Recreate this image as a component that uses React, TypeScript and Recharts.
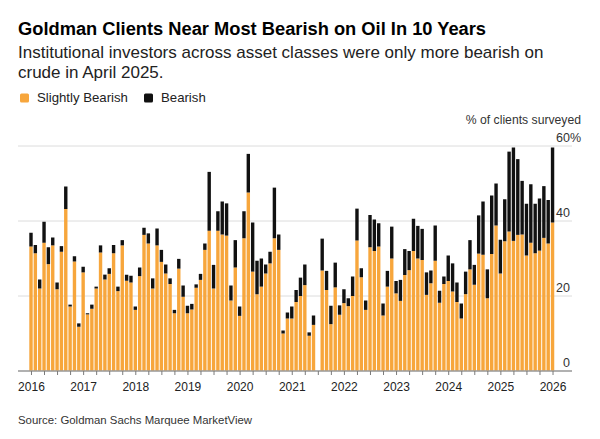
import { BarChart, Bar, XAxis, YAxis, CartesianGrid } from 'recharts'

const FONT = '"Liberation Sans", Arial, Helvetica, sans-serif'
const ORANGE = '#f7a63c'
const BLACK = '#111111'

const YEARS = [2016, 2017, 2018, 2019, 2020, 2021, 2022, 2023, 2024, 2025, 2026]
// monthly survey, Jan 2016 .. Jan 2026
const MONTHS = YEARS.flatMap((y) =>
  ['01', '02', '03', '04', '05', '06', '07', '08', '09', '10', '11', '12'].map((m) => `${y}-${m}`)
).slice(0, 121)

// % of clients "slightly bearish" (orange part)
const SLIGHTLY: (number | null)[] = [
  33.2, 31.4, 22.0, 34.2, 28.5, 33.5, 21.8, 31.8, 43.2, 17.2, 29.2, 11.8,
  26.3, 15.1, 16.6, 22.0, 31.6, 24.4, 25.9, 31.4, 21.3, 33.5, 24.1, 23.6,
  16.3, 25.3, 36.3, 34.0, 22.0, 33.5, 29.1, 26.0, 23.2, 15.4, 27.3, 19.8,
  15.4, 16.4, 22.2, 24.3, 32.3, 37.4, 22.0, 37.4, 36.4, 36.1, 18.8, 27.6,
  14.7, 35.4, 47.6, 26.5, 20.5, 22.5, 26.0, 28.7, 35.4, 32.3, 10.0, 14.0,
  14.0, 18.4, 20.0, 22.9, 9.4, 12.3, null, 26.8, 21.6, 12.5, 22.3, 15.0,
  18.1, 17.3, 20.0, 34.8, 25.0, 16.3, 33.0, 32.0, 33.2, 14.8, 22.5, 30.0,
  20.7, 18.7, 25.6, 26.9, 32.0, 30.0, 29.6, 20.3, 23.4, 29.4, 18.2, 23.2,
  24.0, 21.2, 18.4, 14.0, 20.5, 27.1, 23.0, 31.3, 31.0, 19.4, 31.2, 38.8,
  26.0, 34.6, 37.2, 34.7, 36.3, 36.4, 30.8, 34.2, 31.4, 32.1, 35.5, 34.0,
  39.6,
]

// % of clients "bearish" (black part, stacked on top)
const BEARISH: (number | null)[] = [
  3.7, 2.2, 2.4, 5.6, 4.5, 2.1, 1.8, 1.5, 6.0, 0.5, 1.4, 0.9,
  1.5, 0.3, 1.1, 0.5, 1.9, 1.3, 1.5, 2.2, 1.2, 1.4, 1.6, 1.8,
  0.9, 2.3, 1.9, 2.7, 2.7, 4.5, 3.2, 2.4, 1.5, 0.9, 2.6, 3.0,
  2.0, 1.5, 0.9, 1.6, 1.7, 15.7, 6.3, 5.2, 8.8, 8.6, 4.0, 7.3,
  2.5, 7.2, 10.3, 13.1, 8.9, 7.5, 2.4, 3.1, 13.5, 4.1, 0.8, 1.6,
  3.2, 3.2, 4.9, 5.5, 0.9, 2.5, null, 8.5, 5.1, 4.9, 6.6, 2.5,
  3.7, 2.1, 5.2, 8.5, 2.4, 2.5, 8.6, 8.4, 6.2, 3.2, 4.2, 8.5,
  3.3, 5.6, 6.9, 5.1, 8.6, 8.7, 8.3, 6.0, 3.4, 9.4, 3.2, 2.0,
  6.8, 7.5, 5.2, 4.0, 6.0, 7.8, 5.3, 10.2, 14.2, 7.7, 15.6, 11.2,
  9.0, 11.2, 21.3, 24.9, 20.2, 14.3, 13.8, 15.6, 13.2, 13.9, 13.8, 11.6,
  20.0,
]

const Y_TICKS = [0, 20, 40, 60]

const data = MONTHS.map((month, i) => ({ month, slightly: SLIGHTLY[i], bearish: BEARISH[i] }))

function XTick(props: any) {
  const { x, y, payload } = props
  const [yr, mo] = String(payload.value).split('-')
  const m = Number(mo)
  if ((m - 1) % 3 !== 0) return <g />
  return (
    <g>
      <line x1={x} x2={x} y1={y} y2={y + 4} stroke="#7a7a7a" strokeWidth={1} />
      {m === 1 && (
        <text x={x} y={y + 19.5} textAnchor="middle" fontSize={12} fill="#222" fontFamily={FONT}>
          {yr}
        </text>
      )}
    </g>
  )
}

function YTick(props: any) {
  const { x, y, payload } = props
  return (
    <g>
      <text x={x} y={y - 4.5} textAnchor="end" fontSize={12.5} fill="#333" fontFamily={FONT}>
        {payload.value}
      </text>
      {payload.value === 60 && (
        <text x={x} y={y - 4.5} textAnchor="start" fontSize={12.5} fill="#333" fontFamily={FONT}>
          %
        </text>
      )}
    </g>
  )
}

export default function App() {
  return (
    <div style={{ position: 'absolute', left: 0, top: 0, width: 600, height: 439, background: '#fff', overflow: 'hidden' }}>
      <div style={{ position: 'absolute', left: 0, top: 0 }}>
        <BarChart width={600} height={439} data={data} margin={{ top: 146, right: 28, bottom: 38, left: 18 }} barSize={3.4}>
          <CartesianGrid vertical={false} stroke="#dcdcdc" strokeWidth={1} />
          <XAxis
            dataKey="month"
            height={30}
            interval={0}
            padding={{ left: 11.3, right: 16.8 }}
            axisLine={{ stroke: '#9c9c9c', strokeWidth: 1.5 }}
            tickLine={false}
            tickSize={0}
            tickMargin={0}
            tick={<XTick />}
          />
          <YAxis
            orientation="right"
            mirror
            domain={[0, 60]}
            ticks={Y_TICKS}
            axisLine={false}
            tickLine={false}
            tickSize={0}
            tickMargin={2}
            tick={<YTick />}
          />
          <Bar dataKey="slightly" stackId="a" fill={ORANGE} isAnimationActive={false} />
          <Bar dataKey="bearish" stackId="a" fill={BLACK} isAnimationActive={false} />
        </BarChart>
      </div>
      <svg width={600} height={439} style={{ position: 'absolute', left: 0, top: 0, pointerEvents: 'none' }} fontFamily={FONT}>
        <text x={18} y={34.5} fontSize={18.3} fontWeight="bold" fill="#000">
          Goldman Clients Near Most Bearish on Oil In 10 Years
        </text>
        <text x={18} y={58.3} fontSize={17} fill="#222">
          Institutional investors across asset classes were only more bearish on
        </text>
        <text x={18} y={77.5} fontSize={17} fill="#222">
          crude in April 2025.
        </text>
        <rect x={20} y={93.5} width={9} height={9} rx={1.5} fill={ORANGE} />
        <text x={37} y={102} fontSize={13.2} fill="#222">
          Slightly Bearish
        </text>
        <rect x={144} y={93.5} width={9} height={9} rx={1.5} fill={BLACK} />
        <text x={161} y={102} fontSize={13.2} fill="#222">
          Bearish
        </text>
        <text x={581} y={124} textAnchor="end" fontSize={12.2} fill="#333">
          % of clients surveyed
        </text>
        <text x={18} y={423.5} fontSize={11.4} fill="#333">
          Source: Goldman Sachs Marquee MarketView
        </text>
      </svg>
    </div>
  )
}
